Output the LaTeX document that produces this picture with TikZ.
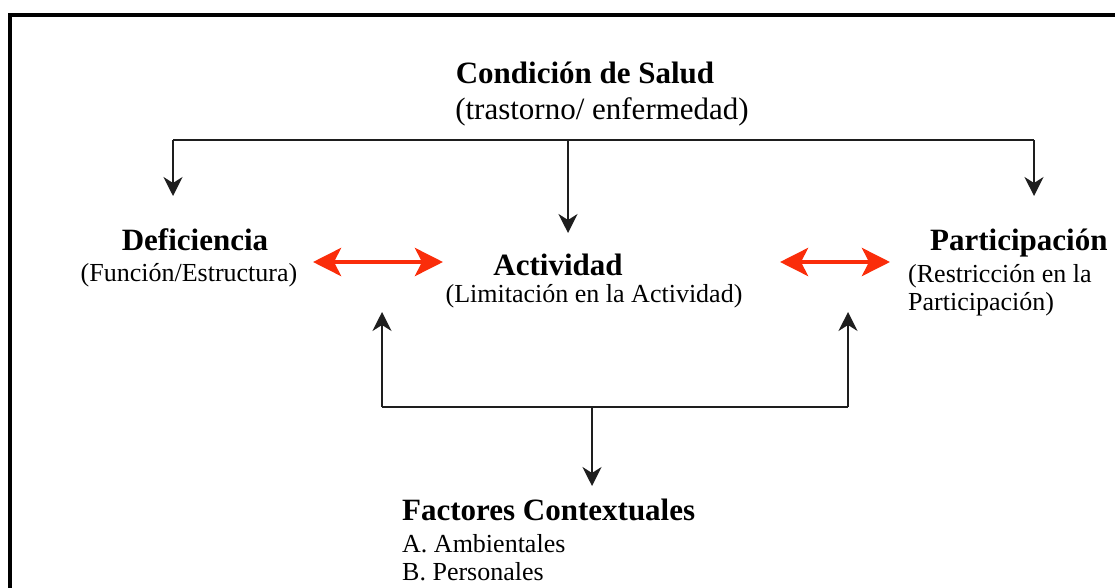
\documentclass[tikz,border=0pt]{standalone}
\usepackage{fontspec}
\setmainfont{Liberation Serif}
\usetikzlibrary{arrows.meta}
\definecolor{arrred}{RGB}{250,45,10}
\definecolor{lineblk}{RGB}{30,30,30}
\begin{document}
\begin{tikzpicture}[x=1pt,y=-1pt,
  title/.style={inner sep=0pt,anchor=base,font=\fontsize{31}{37}\selectfont\bfseries},
  sub/.style={inner sep=0pt,anchor=base,font=\fontsize{26}{31}\selectfont},
  subbig/.style={inner sep=0pt,anchor=base,font=\fontsize{31}{37}\selectfont},
  conn/.style={draw=lineblk,line width=1.6pt,-{Stealth[length=19pt,width=19pt,inset=6pt]}},
  plain/.style={draw=lineblk,line width=1.6pt},
  redarr/.style={draw=arrred,line width=4.5pt,{Stealth[length=28pt,width=28pt,inset=7pt]}-{Stealth[length=28pt,width=28pt,inset=7pt]}}]
\useasboundingbox (0,0) rectangle (1115,588);
\begin{scope}
\clip (0,0) rectangle (1115,588);
\draw[line width=3.5pt] (10,650) -- (10,15) -- (1130,15);
\end{scope}
% nodes
\node[title] (cond) at (585,84) {Condición de Salud};
\node[subbig] (condsub) at (602,120) {(trastorno/ enfermedad)};
\node[title] (def) at (195,250) {Deficiencia};
\node[sub] (defsub) at (189,281) {(Función/Estructura)};
\node[title] (act) at (558,275) {Actividad};
\node[sub] (actsub) at (594,302) {(Limitación en la Actividad)};
\node[title,anchor=base west] (par) at (930,250) {Participación};
\node[sub,anchor=base west] (parsub1) at (908,282) {(Restricción en la};
\node[sub,anchor=base west] (parsub2) at (908,310) {Participación)};
\node[title,anchor=base west] (fac) at (402,520) {Factores Contextuales};
\node[sub,anchor=base west] (faca) at (402,552) {A. Ambientales};
\node[sub,anchor=base west] (facb) at (402,580) {B. Personales};
% junction coordinates
\coordinate (topL) at (173,140);
\coordinate (topM) at (568,140);
\coordinate (topR) at (1034,140);
\coordinate (defIn) at (173,196);
\coordinate (actIn) at (568,233);
\coordinate (parIn) at (1034,196);
\coordinate (botL) at (382,407);
\coordinate (botM) at (592,407);
\coordinate (botR) at (848,407);
\coordinate (actUpL) at (382,312);
\coordinate (parUp) at (848,312);
\coordinate (facIn) at (592,486);
\coordinate (rA1) at (313,262);
\coordinate (rA2) at (443,262);
\coordinate (rB1) at (780,262);
\coordinate (rB2) at (890,262);
% connectors
\draw[plain] (topL) -- (topR);
\draw[conn] (topL) -- (defIn);
\draw[conn] (topM) -- (actIn);
\draw[conn] (topR) -- (parIn);
\draw[plain] (botL) -- (botR);
\draw[conn] (botL) -- (actUpL);
\draw[conn] (botR) -- (parUp);
\draw[conn] (botM) -- (facIn);
\draw[redarr] (rA1) -- (rA2);
\draw[redarr] (rB1) -- (rB2);
\end{tikzpicture}
\end{document}
